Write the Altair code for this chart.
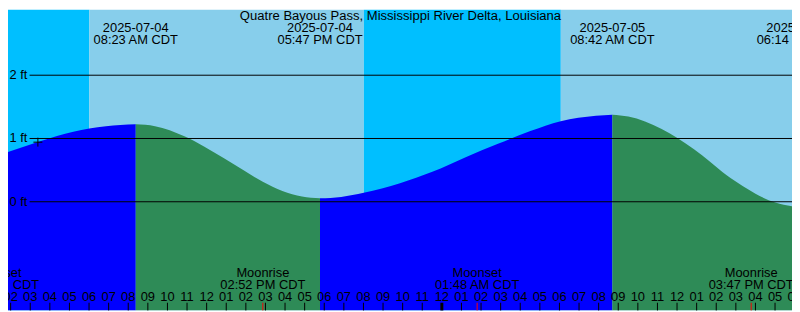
import altair as alt
import pandas as pd

W, H = 792, 304
# hours since 2025-07-04 00:00 CDT at left / right edge of the plot
X0, X1 = 1.865, 41.865
# feet at bottom / top of the plot
Y0, Y1 = -1.718, 3.038

TITLE = "Quatre Bayous Pass, Mississippi River Delta, Louisiana"
FONT = "Liberation Sans"
FS = 13

# tide curve (hours, feet)
tide_h = [1.865, 3.39, 4.365, 5.2, 6.015, 6.865, 7.6, 8.383, 9.365, 10.865,
          11.865, 12.865, 13.865, 14.865, 15.865, 16.865, 17.783, 18.865,
          20.015, 21.865, 23.515, 25.215, 26.865, 28.515, 30.065, 31.865,
          32.7, 33.515, 34.365, 35.215, 36.015, 36.865, 37.715, 38.515,
          39.365, 40.215, 41.015, 41.865]
tide_ft = [0.787, 0.945, 1.04, 1.107, 1.159, 1.194, 1.213, 1.224, 1.195, 1.035,
           0.875, 0.69, 0.50, 0.315, 0.17, 0.084, 0.055, 0.076,
           0.142, 0.294, 0.473, 0.705, 0.915, 1.117, 1.274, 1.361,
           1.377, 1.346, 1.270, 1.148, 1.006, 0.828, 0.625, 0.421,
           0.244, 0.091, -0.011, -0.072]

# high / low tide events
ext_h = [8.383, 17.783, 32.7, 42.233]
ext_date = ["2025-07-04", "2025-07-04", "2025-07-05", "2025-07-05"]
ext_time = ["08:23 AM CDT", "05:47 PM CDT", "08:42 AM CDT", "06:14 PM CDT"]

# sun
sun_h = [6.02, 20.02, 30.07]
sun_kind = ["rise", "set", "rise"]

# moon
moon_h = [1.3, 14.867, 25.8, 39.783]
moon_kind = ["Moonset", "Moonrise", "Moonset", "Moonrise"]
moon_time = ["01:19 AM CDT", "02:52 PM CDT", "01:48 AM CDT", "03:47 PM CDT"]

# current time marker
now_h, now_ft = 3.39, 0.942

hours = list(range(1, 43))
levels = [0, 1, 2]

NIGHT, DAY = "#00BFFF", "#87CEEB"
RISE, FALL = "#0000FF", "#2E8B57"

xs = alt.Scale(domain=[X0, X1], nice=False, zero=False)
ys = alt.Scale(domain=[Y0, Y1], nice=False, zero=False)

# ---- background day / night
edges = [X0] + sun_h + [X1]
bg_rows = []
state_night = sun_kind[0] == "rise"
for a, b in zip(edges[:-1], edges[1:]):
    bg_rows.append({"a": a, "b": b, "col": NIGHT if state_night else DAY})
    state_night = not state_night
bg = alt.Chart(pd.DataFrame(bg_rows)).mark_rect(clip=True).encode(
    x=alt.X("a:Q", scale=xs, axis=None),
    x2="b:Q",
    y=alt.value(0),
    y2=alt.value(H),
    color=alt.Color("col:N", scale=None),
)

# ---- tide area split into rising / falling segments
bounds = [X0] + [e for e in ext_h if X0 < e < X1] + [X1]
rows = []
for i, (a, b) in enumerate(zip(bounds[:-1], bounds[1:])):
    pts = [(h, f) for h, f in zip(tide_h, tide_ft) if a - 1e-6 <= h <= b + 1e-6]
    col = RISE if pts[-1][1] > pts[0][1] else FALL
    for h, f in pts:
        rows.append({"h": h, "ft": f, "seg": i, "col": col})
tide = alt.Chart(pd.DataFrame(rows)).mark_area(interpolate="monotone", clip=True).encode(
    x=alt.X("h:Q", scale=xs, axis=None),
    y=alt.Y("ft:Q", scale=ys, axis=None),
    y2=alt.datum(Y0),
    color=alt.Color("col:N", scale=None),
    detail="seg:N",
)

# ---- level lines and labels
lv = pd.DataFrame({"ft": levels, "lab": [f"{v} ft" for v in levels]})
lines = alt.Chart(lv).mark_rule(color="black", strokeWidth=1).encode(
    x=alt.value(21.8), x2=alt.value(W),
    y=alt.Y("ft:Q", scale=ys, axis=None),
)
lvlab = alt.Chart(lv).mark_text(font=FONT, fontSize=FS, align="left",
                                baseline="middle", color="black").encode(
    x=alt.value(1.5), y=alt.Y("ft:Q", scale=ys, axis=None), text="lab:N")

# ---- tide event labels
ev = pd.DataFrame({"h": ext_h, "d": ext_date, "t": ext_time})
evd = alt.Chart(ev).mark_text(font=FONT, fontSize=FS, baseline="middle",
                              color="black").encode(
    x=alt.X("h:Q", scale=xs, axis=None), y=alt.value(19.0), text="d:N")
evt = alt.Chart(ev).mark_text(font=FONT, fontSize=FS, baseline="middle",
                              color="black").encode(
    x=alt.X("h:Q", scale=xs, axis=None), y=alt.value(30.4), text="t:N")

# ---- moon labels
mo = pd.DataFrame({"h": moon_h, "k": moon_kind, "t": moon_time})
mok = alt.Chart(mo).mark_text(font=FONT, fontSize=FS, baseline="middle",
                              color="black").encode(
    x=alt.X("h:Q", scale=xs, axis=None), y=alt.value(266), text="k:N")
mot = alt.Chart(mo).mark_text(font=FONT, fontSize=FS, baseline="middle",
                              color="black").encode(
    x=alt.X("h:Q", scale=xs, axis=None), y=alt.value(278.7), text="t:N")
moontick = alt.Chart(mo).mark_rule(color="#FF0000", strokeWidth=1).encode(
    x=alt.X("h:Q", scale=xs, axis=None), y=alt.value(296.2), y2=alt.value(H))

# ---- hour labels and ticks
hr = pd.DataFrame({"h": hours,
                   "lab": [f"{(h % 12) or 12:02d}" for h in hours],
                   "w": [3 if h % 24 == 0 else 1 for h in hours]})
hrlab = alt.Chart(hr).mark_text(font=FONT, fontSize=FS, baseline="middle",
                                color="black").encode(
    x=alt.X("h:Q", scale=xs, axis=None), y=alt.value(290.4), text="lab:N")
hrtick = alt.Chart(hr).mark_rule(color="black").encode(
    x=alt.X("h:Q", scale=xs, axis=None), y=alt.value(296.2), y2=alt.value(H),
    strokeWidth=alt.StrokeWidth("w:Q", scale=None))

# ---- current time cross
now = alt.Chart(pd.DataFrame({"h": [now_h], "ft": [now_ft]})).mark_point(
    shape="M-1,0L1,0M0,-1L0,1", size=81, filled=False, stroke="black",
    strokeWidth=1, opacity=1).encode(
    x=alt.X("h:Q", scale=xs, axis=None), y=alt.Y("ft:Q", scale=ys, axis=None))

# ---- title
ttl = alt.Chart(pd.DataFrame({"t": [TITLE]})).mark_text(
    font=FONT, fontSize=13.2, baseline="middle", color="black").encode(
    x=alt.value(396.5), y=alt.value(6.6), text="t:N")

chart = alt.layer(bg, tide, lines, lvlab, evd, evt, mok, mot, hrlab, hrtick,
                  moontick, now, ttl).properties(
    width=W, height=H, padding=0,
    autosize=alt.AutoSizeParams(type="none"),
).configure_view(stroke=None)

chart.save("out.html", embed_options={"renderer": "svg", "actions": False})
